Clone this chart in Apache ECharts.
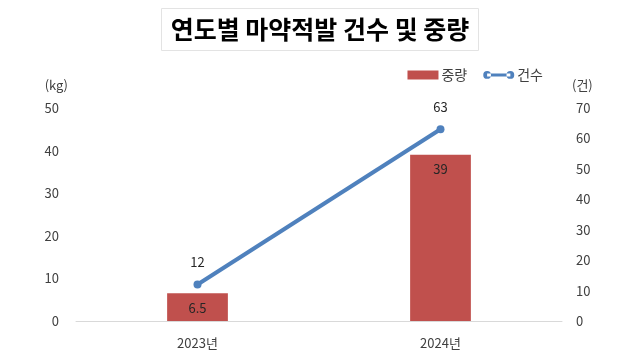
<!DOCTYPE html>
<html><head><meta charset="utf-8">
<script src="https://cdn.jsdelivr.net/npm/echarts@6/dist/echarts.min.js"></script>
<style>html,body{margin:0;padding:0;background:#fff}#c{width:640px;height:360px}</style>
</head><body><div id="c"></div>
<script>
const categories = ['2023년', '2024년'];
const weightKg = [6.5, 39];
const caseCount = [12, 63];
const leftTicks = [0, 50, 10];
const rightTicks = [0, 70, 10];

const FONT = '"Noto Sans CJK KR", "Noto Sans", sans-serif';
const lineIcon = 'path://M0,4a4,4 0 1,0 8,0a4,4 0 1,0 -8,0ZM24,4a4,4 0 1,0 8,0a4,4 0 1,0 -8,0ZM4,2.5H28V5.5H4Z';
const chart = echarts.init(document.getElementById('c'), null, {renderer: 'canvas'});
chart.setOption({
  animation: false,
  textStyle: {fontFamily: FONT},
  title: {
    text: '연도별 마약적발 건수 및 중량',
    left: 'center', top: 8,
    padding: [9, 9, 9, 9],
    borderColor: '#e3e3e3', borderWidth: 1,
    textStyle: {fontFamily: FONT, fontSize: 25, fontWeight: 'bold', color: '#000'}
  },
  legend: {
    right: 92, top: 63, itemGap: 16, itemWidth: 31, itemHeight: 9,
    textStyle: {fontFamily: FONT, fontSize: 14, color: '#404040', padding: [0, 0, 0, -2]},
    data: [{name: '중량', icon: 'rect'}, {name: '건수', icon: lineIcon}]
  },
  grid: {left: 76, right: 78, top: 108, bottom: 39, containLabel: false},
  xAxis: {
    type: 'category', data: categories,
    axisLine: {lineStyle: {color: '#d9d9d9'}},
    axisTick: {show: false},
    axisLabel: {fontFamily: FONT, fontSize: 13, color: '#404040', margin: 16}
  },
  yAxis: [
    {type: 'value', min: leftTicks[0], max: leftTicks[1], interval: leftTicks[2],
     name: '(kg)', nameLocation: 'end', nameGap: 16,
     nameTextStyle: {fontFamily: FONT, fontSize: 13, color: '#404040', align: 'right', padding: [0, 8, 0, 0]},
     splitLine: {show: false}, axisLine: {show: false}, axisTick: {show: false},
     axisLabel: {fontFamily: FONT, fontSize: 13, color: '#404040', margin: 17}},
    {type: 'value', min: rightTicks[0], max: rightTicks[1], interval: rightTicks[2],
     name: '(건)', nameLocation: 'end', nameGap: 16,
     nameTextStyle: {fontFamily: FONT, fontSize: 13, color: '#404040', align: 'left', padding: [0, 0, 0, 10]},
     splitLine: {show: false}, axisLine: {show: false}, axisTick: {show: false},
     axisLabel: {fontFamily: FONT, fontSize: 13, color: '#404040', margin: 14}}
  ],
  series: [
    {name: '중량', type: 'bar', yAxisIndex: 0, data: weightKg, barWidth: '25%',
     itemStyle: {color: '#c0504d'},
     label: {show: true, position: 'insideTop', distance: 8, fontFamily: FONT, fontSize: 13, color: '#262626'}},
    {name: '건수', type: 'line', yAxisIndex: 1, data: caseCount,
     symbol: 'circle', symbolSize: 8,
     lineStyle: {color: '#4f81bd', width: 4}, itemStyle: {color: '#4f81bd'},
     label: {show: true, position: 'top', distance: 12, fontFamily: FONT, fontSize: 13, color: '#262626'}}
  ]
});
</script></body></html>
